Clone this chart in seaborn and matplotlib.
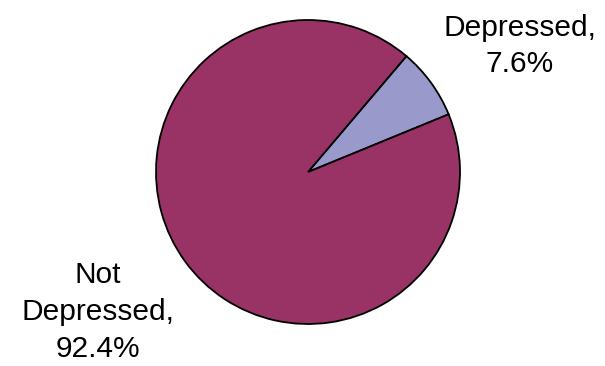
import matplotlib
matplotlib.use("Agg")
import matplotlib.pyplot as plt
import seaborn as sns

categories = ["Depressed", "Not Depressed"]
shares = [7.6, 92.4]
slice_colors = ["#9999cc", "#993366"]

sns.set_style("white")
plt.rcParams["font.family"] = ["Liberation Sans", "DejaVu Sans"]

fig = plt.figure(figsize=(6.05, 3.66), dpi=100)
ax = fig.add_axes([0, 0, 1, 1])

ax.pie(
    shares,
    colors=sns.color_palette(slice_colors),
    startangle=22.3,
    counterclock=True,
    center=(308, 194),
    radius=152,
    wedgeprops=dict(edgecolor="black", linewidth=1.3),
)
ax.set_xlim(0, 605)
ax.set_ylim(0, 366)
ax.set_aspect("equal")
ax.axis("off")

label_pos = {"Depressed": (520, 320), "Not Depressed": (98, 54)}
label_text = {"Depressed": "Depressed,", "Not Depressed": "Not\nDepressed,"}
for cat, val in zip(categories, shares):
    x, y = label_pos[cat]
    ax.text(x, y, f"{label_text[cat]}\n{val:.1f}%", ha="center", va="center",
            fontsize=21.5, linespacing=1.4, color="black")

fig.savefig("out.png", dpi=100)
